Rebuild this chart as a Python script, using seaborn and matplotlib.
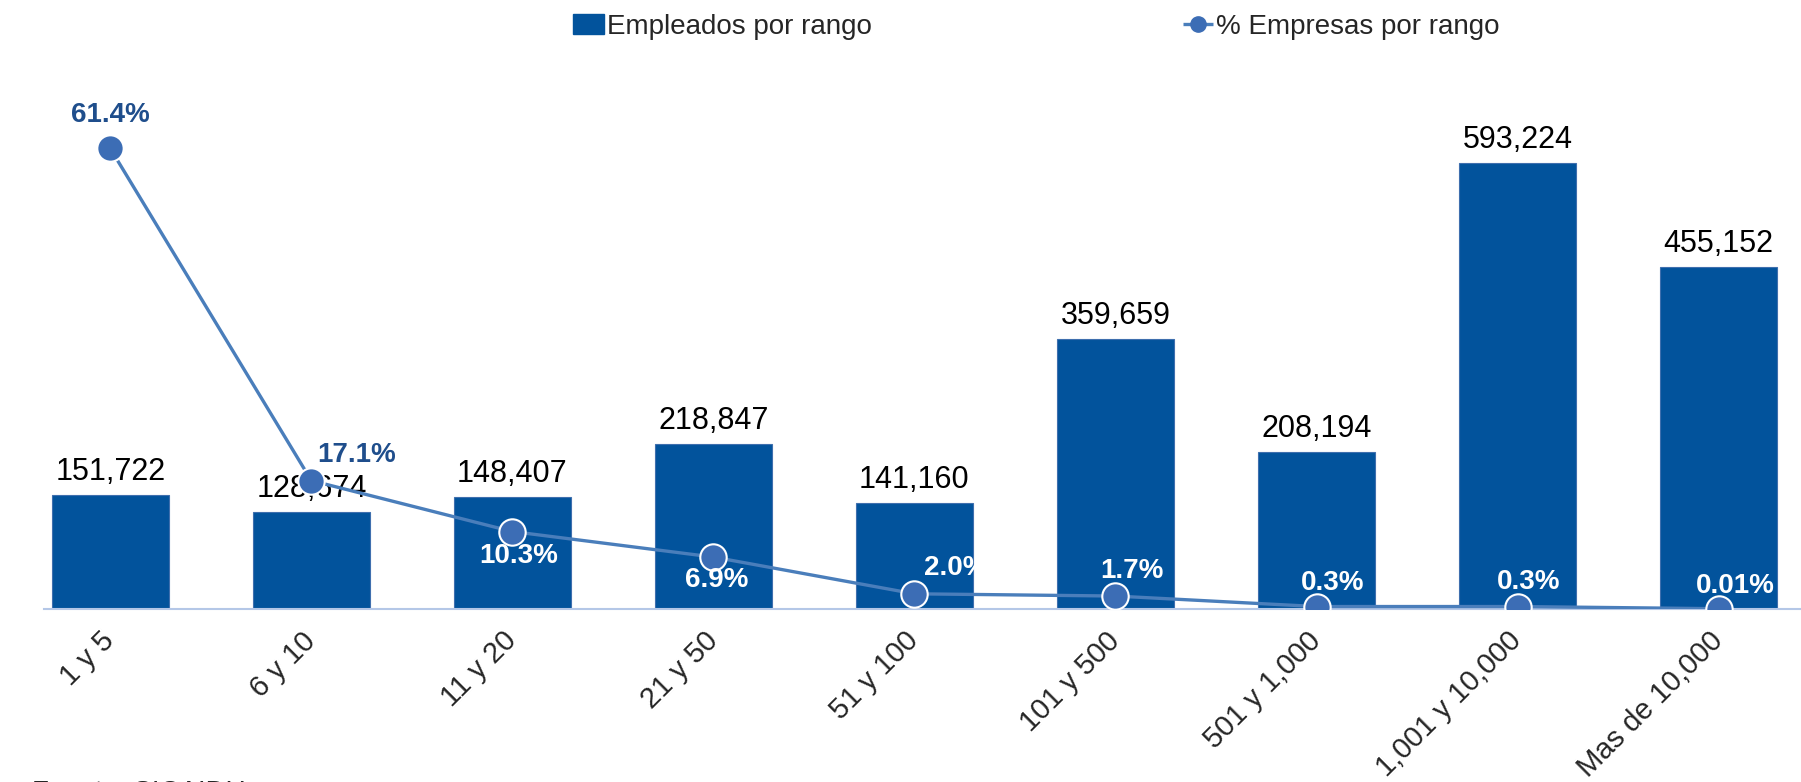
import numpy as np
import matplotlib
matplotlib.use("Agg")
import matplotlib.pyplot as plt
import seaborn as sns
from matplotlib.patches import Patch
from matplotlib.lines import Line2D

categories = ["1 y 5", "6 y 10", "11 y 20", "21 y 50", "51 y 100",
              "101 y 500", "501 y 1,000", "1,001 y 10,000", "Mas de 10,000"]
empleados = [151722, 128674, 148407, 218847, 141160, 359659, 208194, 593224, 455152]
pct_empresas = [61.4, 17.1, 10.3, 6.9, 2.0, 1.7, 0.3, 0.3, 0.01]

# label placement for the % labels (pixels from marker) and their colour
pct_offsets = [(0, 33), (45, 26), (6, -24), (3, -23), (41, 26),
               (16, 25), (16, 24), (11, 25), (17, 23)]

bar_color = "#02539C"
line_color = "#4A7EBB"
marker_color = "#3C6DB5"
dark_label = "#1F4E8C"

sns.set_theme(style="white")
plt.rcParams["font.family"] = ["Liberation Sans", "DejaVu Sans"]

fig = plt.figure(figsize=(18.01, 7.82), dpi=100)
ax = fig.add_axes([0.0244, 0.2215, 0.9756, 0.7018])

pos = np.arange(len(categories))
sns.barplot(x=pos, y=empleados, color=bar_color, width=0.58, saturation=1,
            edgecolor="#3F6FAE", linewidth=0.8, native_scale=True, ax=ax)

for x, v in zip(pos, empleados):
    ax.annotate(f"{v:,}", (x, v), xytext=(0, 8), textcoords="offset pixels",
                ha="center", va="bottom", fontsize=22, color="black")

ax.set_xlim(-0.33, 8.41)
ax.set_ylim(0, 730400)
ax.set_yticks([])
ax.set_ylabel("")
ax.set_xticks(pos)
ax.set_xticklabels(categories, rotation=45, ha="right", va="center",
                   rotation_mode="anchor", fontsize=21)
ax.tick_params(axis="x", length=0, pad=20)
for s in ["top", "left", "right"]:
    ax.spines[s].set_visible(False)
ax.spines["bottom"].set_color("#B4C7E7")
ax.spines["bottom"].set_linewidth(1.5)

ax2 = ax.twinx()
sns.lineplot(x=pos, y=pct_empresas, ax=ax2, color=line_color, linewidth=2.4,
             marker="o", markersize=19, markerfacecolor=marker_color,
             markeredgecolor="white", markeredgewidth=1.5)
ax2.set_ylim(0, 73.2)
ax2.set_xlim(-0.33, 8.41)
ax2.set_yticks([])
ax2.set_ylabel("")
for s in ax2.spines.values():
    s.set_visible(False)

for i, (x, v) in enumerate(zip(pos, pct_empresas)):
    txt = f"{v:.1f}%" if v >= 0.1 else f"{v:.2f}%"
    col = dark_label if i < 2 else "white"
    ax2.annotate(txt, (x, v), xytext=pct_offsets[i], textcoords="offset pixels",
                 ha="center", va="center", fontsize=20, fontweight="bold", color=col)

handles = [Patch(facecolor=bar_color, edgecolor=bar_color),
           Line2D([0], [0], color=line_color, linewidth=2.4, linestyle="--",
                  marker="o", markersize=11, markerfacecolor=marker_color,
                  markeredgecolor=marker_color)]
fig.legend(handles, ["Empleados por rango", "% Empresas por rango"],
           loc="center", bbox_to_anchor=(0.5755, 0.966), ncol=2, frameon=False,
           fontsize=20, handlelength=1.1, handletextpad=0.1, columnspacing=11.2)

fig.text(0.018, 1 - 780 / 782, "Fuente: SICAIDU", ha="left", va="top", fontsize=20)

fig.savefig("out.png", dpi=100)
